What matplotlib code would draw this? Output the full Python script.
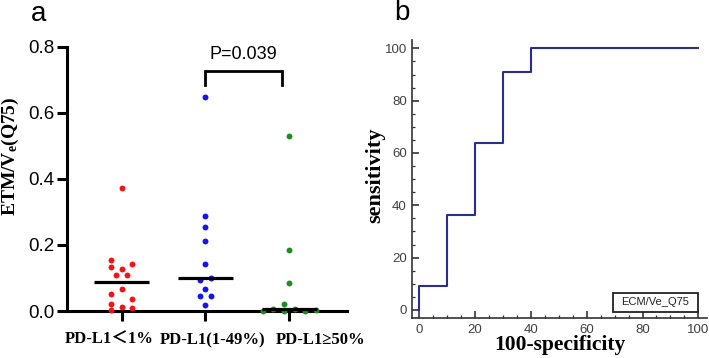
import matplotlib
matplotlib.use("Agg")
import matplotlib.pyplot as plt
import numpy as np
from matplotlib.patches import Rectangle
from matplotlib.ticker import MultipleLocator

plt.rcParams['mathtext.fontset'] = 'custom'
plt.rcParams['mathtext.rm'] = 'Liberation Serif:bold'
plt.rcParams['mathtext.it'] = 'Liberation Serif:bold'
plt.rcParams['mathtext.bf'] = 'Liberation Serif:bold'

# ---------------- data: panel a ----------------
categories = ["PD-L1\uff1c1%", "PD-L1(1-49%)", "PD-L1\u226550%"]
red_vals = [0.373, 0.155, 0.142, 0.132, 0.128, 0.109, 0.109, 0.067, 0.051, 0.037, 0.022, 0.012, 0.010, 0.002]
blue_vals = [0.647, 0.288, 0.253, 0.213, 0.142, 0.101, 0.095, 0.068, 0.046, 0.044, 0.019]
green_vals = [0.530, 0.185, 0.085, 0.021, 0.005, 0.005, 0.001, 0.001, 0.001, 0.002]
# swarm slot index of each point (layout of the dot plot)
red_slots = [0, -2, 2, -2, 0, -1, 1, 0, -2, 2, -2, 0, 2, -2]
blue_slots = [0, 0, 0, 0, 0, 1, -1, 0, -1, 1, 0]
green_slots = [0, 0, 0, -1, -3, 1, -5, -1, 3, 5]
group_colors = ["#f21414", "#1414f0", "#1e8c1e"]
p_text = "P=0.039"
yticks_a = [0.0, 0.2, 0.4, 0.6, 0.8]

# ---------------- data: panel b ----------------
roc_fpr = [0, 0, 10, 10, 20, 20, 30, 30, 40, 40, 100]
roc_tpr = [0, 9.09, 9.09, 36.36, 36.36, 63.64, 63.64, 90.91, 90.91, 100, 100]
legend_label = "ECM/Ve_Q75"
ticks_b = [0, 20, 40, 60, 80, 100]

W, H = 709, 358
fig = plt.figure(figsize=(W / 100, H / 100), dpi=100)

# ---------------- panel a ----------------
axa = fig.add_axes([66.7 / W, 1 - 311 / H, (347 - 66.7) / W, (311 - 46.7) / H])
axa.set_xlim(-0.656, 2.689)
axa.set_ylim(0, 0.8)
slot_w = 0.063
groups = [(red_vals, red_slots), (blue_vals, blue_slots), (green_vals, green_slots)]
for i, (vals, slots) in enumerate(groups):
    xs = i + np.array(slots) * slot_w
    axa.scatter(xs, vals, s=18, color=group_colors[i], zorder=3, clip_on=False, linewidths=0)
    med = np.median(vals)
    axa.plot([i - 0.33, i + 0.33], [med, med], color="black", lw=2.3, zorder=4,
             solid_capstyle="butt", clip_on=False)

for sp in ["top", "right"]:
    axa.spines[sp].set_visible(False)
for sp in ["left", "bottom"]:
    axa.spines[sp].set_linewidth(2.2)
axa.set_xticks([0, 1, 2])
axa.set_xticklabels([])
axa.set_yticks(yticks_a)
axa.set_yticklabels([f"{v:.1f}" for v in yticks_a], fontsize=13.5, family="Liberation Sans")
axa.tick_params(axis="both", direction="out", length=7, width=2.2, pad=2, color="black")
# category labels (placed slightly off the ticks as in the original)
label_dx = [-0.154, 0.09, 0.37]
for i, lab in enumerate(categories):
    axa.text(i + label_dx[i], -0.088, lab, ha="center", va="center", fontsize=12,
             fontweight="bold", family=["Liberation Serif", "Noto Sans CJK SC", "DejaVu Serif"],
             transform=axa.transData, clip_on=False)
axa.set_ylabel("ETM/V$_{e}$(Q75)", fontsize=14, fontweight="bold", family="Liberation Serif",
               va="center")
axa.yaxis.set_label_coords(-0.199, 0.586)

# significance bracket
bx0, bx1, btop, bbot = 1.0, 1.91, 0.726, 0.684
axa.plot([bx0, bx0, bx1, bx1], [bbot, btop, btop, bbot], color="black", lw=2.0,
         clip_on=False, solid_joinstyle="miter")
axa.text(1.45, 0.775, p_text, ha="center", va="center", fontsize=13, family="Liberation Sans")

fig.text(38.5 / W, 1 - 14 / H, "a", ha="center", va="center", fontsize=20, family="Liberation Sans")

# ---------------- panel b ----------------
axb = fig.add_axes([412.3 / W, 1 - 318.3 / H, (706.7 - 412.3) / W, (318.3 - 40) / H])
axb.set_xlim(-2.5, 103)
axb.set_ylim(-3.2, 103.2)
axb.plot(roc_fpr, roc_tpr, color="#2b2f8c", lw=1.5, zorder=3)
for sp in ["top", "right"]:
    axb.spines[sp].set_visible(False)
for sp in ["left", "bottom"]:
    axb.spines[sp].set_linewidth(1.2)
    axb.spines[sp].set_color("#333333")
axb.set_xticks(ticks_b)
axb.set_yticks(ticks_b)
axb.xaxis.set_minor_locator(MultipleLocator(5))
axb.yaxis.set_minor_locator(MultipleLocator(5))
axb.tick_params(axis="both", which="major", direction="in", length=5, width=1.2,
                color="#333333", labelsize=9.5, labelcolor="#404040", pad=4)
axb.tick_params(axis="both", which="minor", direction="in", length=2.5, width=0.9,
                color="#333333")
for lab in axb.get_xticklabels() + axb.get_yticklabels():
    lab.set_family("Liberation Sans")
axb.set_xlabel("100-specificity", fontsize=15.5, fontweight="bold", family="Liberation Serif",
               va="center")
axb.set_ylabel("sensitivity", fontsize=16, fontweight="bold", family="Liberation Serif",
               va="center")
axb.xaxis.set_label_coords(0.502, -0.096)
axb.yaxis.set_label_coords(-0.127, 0.515)

# legend box
axb.add_patch(Rectangle((69.4, -0.7), 30.5, 7.2, facecolor="white", edgecolor="#222222",
                        lw=1.3, zorder=5, clip_on=False))
axb.text(84.6, 2.9, legend_label, ha="center", va="center", fontsize=8,
         family="Liberation Sans", color="#222222", zorder=6)

fig.text(401.7 / W, 1 - 12.5 / H, "b", ha="center", va="center", fontsize=20, family="Liberation Sans")

fig.savefig("out.png", dpi=100)
